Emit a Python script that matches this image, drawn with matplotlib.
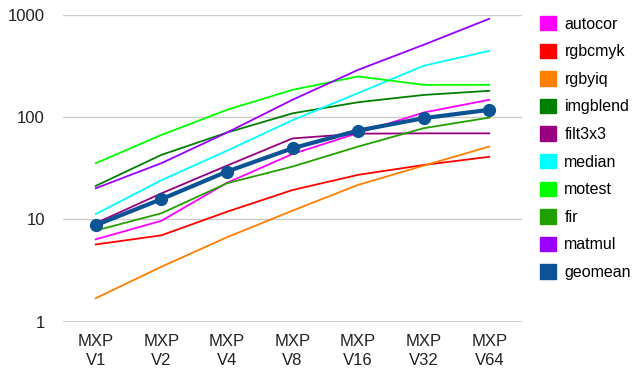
#!/usr/bin/env python3
import matplotlib
matplotlib.use("Agg")
import matplotlib.pyplot as plt
from matplotlib.patches import Patch

# MXP vector-lane configurations along the x axis
configs = ["MXP\nV1", "MXP\nV2", "MXP\nV4", "MXP\nV8", "MXP\nV16", "MXP\nV32", "MXP\nV64"]

# speedup per benchmark (log scale)
autocor = [6.4, 9.7, 22.8, 43.7, 70, 111, 148]
rgbcmyk = [5.7, 7.0, 11.9, 19.4, 27.3, 34.1, 41]
rgbyiq = [1.7, 3.45, 6.7, 12.2, 21.8, 33.6, 51.6]
imgblend = [21.3, 42.8, 70.7, 109, 140, 165, 181]
filt3x3 = [9.2, 18.0, 33.6, 62, 69, 69.5, 69.5]
median = [11.3, 24.2, 47, 93.5, 172, 318, 445]
motest = [35.5, 67, 118, 185, 250, 207, 207]
fir = [7.8, 11.5, 22.6, 32.9, 51.6, 78, 99]
matmul = [20.2, 35.5, 70.7, 148, 290, 510, 916]
geomean = [8.8, 15.8, 29.4, 49.7, 74, 97.8, 118]

series = [
    ("autocor", autocor, "#ff00ff"),
    ("rgbcmyk", rgbcmyk, "#ff0000"),
    ("rgbyiq", rgbyiq, "#ff7f00"),
    ("imgblend", imgblend, "#008000"),
    ("filt3x3", filt3x3, "#990080"),
    ("median", median, "#00ffff"),
    ("motest", motest, "#00ff00"),
    ("fir", fir, "#22a000"),
    ("matmul", matmul, "#9900ff"),
]
geo_color = "#0b5394"

plt.rcParams["font.family"] = ["Liberation Sans", "DejaVu Sans"]

fig = plt.figure(figsize=(6.32, 3.72), dpi=100)
ax = fig.add_axes([0.0997, 0.135, 0.7263, 0.825])

x = list(range(len(configs)))
for name, vals, col in series:
    ax.plot(x, vals, color=col, linewidth=1.3, label=name)
ax.plot(x, geomean, color=geo_color, linewidth=3.0, marker="o", markersize=8.5, label="geomean", zorder=5)

ax.set_yscale("log")
ax.set_ylim(1, 1000)
ax.set_xlim(-0.5, len(configs) - 0.5)
ax.set_yticks([1, 10, 100, 1000])
ax.set_yticklabels(["1", "10", "100", "1000"])
ax.minorticks_off()
ax.set_xticks(x)
ax.set_xticklabels(configs, linespacing=1.3)
ax.tick_params(axis="both", length=0, labelsize=12, colors="#222222")
ax.tick_params(axis="y", pad=13)
ax.tick_params(axis="x", pad=9)

for s in ax.spines.values():
    s.set_visible(False)
ax.grid(True, axis="y", color="#cccccc", linewidth=1.0)
ax.set_axisbelow(True)
ax.axhline(1, color="#333333", linewidth=1.0, zorder=1)

handles = [Patch(facecolor=c, edgecolor=c) for _, _, c in series]
handles.append(Patch(facecolor=geo_color, edgecolor=geo_color))
labels = [n for n, _, _ in series] + ["geomean"]
fig.legend(handles, labels, loc="upper left", bbox_to_anchor=(0.845, 0.974),
           frameon=False, fontsize=11.5, handlelength=1.0, handleheight=1.0,
           handletextpad=0.5, labelspacing=0.75, borderaxespad=0)

fig.savefig("out.png", dpi=100)
